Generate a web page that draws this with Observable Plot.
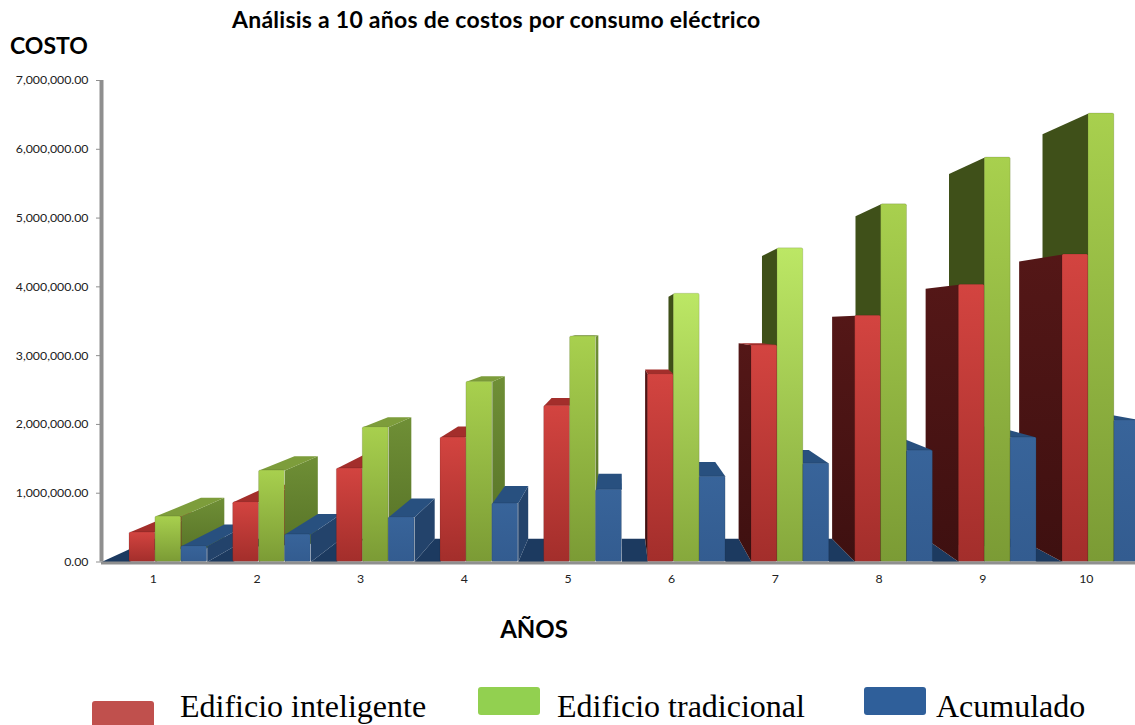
<!DOCTYPE html>
<html lang="es">
<head>
<meta charset="utf-8">
<title>Análisis a 10 años de costos por consumo eléctrico</title>
<script src="https://cdn.jsdelivr.net/npm/d3@7"></script>
<script src="https://cdn.jsdelivr.net/npm/@observablehq/plot@0.6"></script>
<style>
  html, body { margin: 0; padding: 0; background: #fff; overflow: hidden; }
  #page { position: relative; width: 1135px; height: 725px; overflow: hidden; }
  #head { position: relative; height: 62px; font-family: Lato, sans-serif; font-weight: 700; color: #000; }
  #title { position: absolute; left: 232px; top: 5px; font-size: 23px; letter-spacing: 0.25px; white-space: nowrap; }
  #ytitle { position: absolute; left: 10px; top: 31px; font-size: 23px; }
  #foot { position: relative; height: 125px; }
  #xtitle { position: absolute; left: 534px; top: 14px; transform: translateX(-50%); font: 700 24px Lato, sans-serif; color: #000; }
  .swatch { position: absolute; width: 62px; height: 28px; border-radius: 3px; }
  .entry { position: absolute; top: 90px; font: 32px/32px "Liberation Serif", serif; color: #000; white-space: nowrap; }
  svg { display: block; }
</style>
</head>
<body>
<div id="page">
  <div id="head">
    <div id="title">Análisis a 10 años de costos por consumo eléctrico</div>
    <div id="ytitle">COSTO</div>
  </div>
  <div id="chart"></div>
  <div id="foot">
    <div id="xtitle">AÑOS</div>
    <div class="swatch" style="left:92px;top:101px;background:#c0504d"></div>
    <div class="entry" style="left:180px">Edificio inteligente</div>
    <div class="swatch" style="left:478px;top:87px;background:#92d050"></div>
    <div class="entry" style="left:557px">Edificio tradicional</div>
    <div class="swatch" style="left:864px;top:87px;background:#2f5f9a"></div>
    <div class="entry" style="left:936px">Acumulado</div>
  </div>
</div>
<script>
// Yearly cost per building type, in pesos.
const years = [1, 2, 3, 4, 5, 6, 7, 8, 9, 10];
const inteligente = [430000, 870000, 1360000, 1810000, 2270000, 2730000, 3150000, 3580000, 4030000, 4470000];
const tradicional = [660000, 1330000, 1960000, 2620000, 3280000, 3900000, 4560000, 5200000, 5880000, 6520000];
const acumulado = [230000, 400000, 650000, 850000, 1050000, 1240000, 1430000, 1620000, 1810000, 2060000];

// Bar placement inside one year, in year units.
const barWidth = 0.25;
const firstOffset = -0.23;

// Perspective of the extruded bars: everything recedes toward one point.
const vanishX = 5.5;
const vanishV = 3440000;
const depth = 0.098;
const recede = ([x, v]) => [x + depth * (vanishX - x), v + depth * (vanishV - v)];

// Face paints for each series.
const paints = {
  inteligente: {front: "url(#redFront)", top: "#a32e2b", near: "#8d2623", far: "url(#redSide)"},
  tradicional: {front: "url(#greenFront)", top: "#7d9d3b", near: "url(#greenSideNear)", far: "#3f5019"},
  acumulado: {front: "url(#blueFront)", top: "#28507f", near: "#23436b", far: "#1f3d63"}
};
const brightYears = [6, 7];

const series = [["inteligente", inteligente], ["tradicional", tradicional], ["acumulado", acumulado]];
const bars = series.flatMap(([name, values], s) =>
  years.map((year, i) => ({
    name,
    year,
    value: values[i],
    x0: year + firstOffset + s * barWidth,
    x1: year + firstOffset + (s + 1) * barWidth
  }))
);

// Faces further from the vanishing point are painted first so nearer bars cover them.
const order = d3.sort(bars, (d) => -Math.abs((d.x0 + d.x1) / 2 - vanishX));

const quad = (id, fill, corners) => corners.map(([x, y]) => ({id, fill, x, y}));

const faces = order.flatMap((d, n) => {
  const paint = paints[d.name];
  const out = [];
  if (d.x1 < vanishX) {
    const a = [d.x1, 0], b = [d.x1, d.value];
    out.push(...quad(`s${n}`, paint.near, [a, b, recede(b), recede(a)]));
  } else if (d.x0 > vanishX) {
    const a = [d.x0, 0], b = [d.x0, d.value];
    out.push(...quad(`s${n}`, paint.far, [a, b, recede(b), recede(a)]));
  }
  if (d.value < vanishV) {
    const a = [d.x0, d.value], b = [d.x1, d.value];
    out.push(...quad(`t${n}`, paint.top, [a, b, recede(b), recede(a)]));
  }
  return out;
});

// Dark floor strips running back between one year's group and the next.
const floorColor = "#1c3a60";
const gaps = years.map((year) => [
  year === 1 ? 0.5 : year - 1 + firstOffset + 3 * barWidth,
  year + firstOffset
]);
const floor = gaps.flatMap(([a, b], i) =>
  quad(`f${i}`, floorColor, [[a, 0], [b, 0], recede([b, 0]), recede([a, 0])])
);

const frontFill = (d) =>
  d.name === "tradicional" && brightYears.includes(d.year) ? "url(#greenBright)" : paints[d.name].front;

const facePolys = (data) =>
  Plot.line(data, {
    x: "x",
    y: "y",
    z: "id",
    fill: {value: "fill", scale: null},
    stroke: "none",
    curve: "linear"
  });

const chart = Plot.plot({
  width: 1135,
  height: 538,
  marginLeft: 101,
  marginRight: 0,
  marginTop: 18,
  marginBottom: 38.5,
  style: {fontFamily: "Lato, sans-serif", fontSize: "12.3px", color: "#222", background: "#fff"},
  x: {type: "linear", domain: [0.5, 10.474]},
  y: {domain: [0, 7000000]},
  marks: [
    facePolys(floor),
    facePolys(faces),
    Plot.rect(bars, {
      x1: "x0",
      x2: "x1",
      y1: 0,
      y2: "value",
      fill: {value: frontFill, scale: null},
      stroke: "#000",
      strokeOpacity: 0.12,
      strokeWidth: 1,
      rx: 1.5
    }),
    Plot.ruleX([0.5], {stroke: "#8f8f8f", strokeWidth: 4}),
    Plot.ruleY([0], {stroke: "#8f8f8f", strokeWidth: 3, dy: 1}),
    Plot.axisY({
      ticks: d3.range(0, 7000001, 1000000),
      tickFormat: d3.format(",.2f"),
      tickSize: 5,
      tickPadding: 8,
      stroke: "#8f8f8f",
      label: null
    }),
    Plot.axisX({ticks: years, tickFormat: (d) => `${d}`, tickSize: 0, tickPadding: 12, label: null})
  ]
});

// Gradients referenced by the front and side faces.
const defs = d3.select(chart).insert("defs", ":first-child");
const gradient = (id, top, bottom) => {
  const g = defs.append("linearGradient").attr("id", id).attr("x1", 0).attr("y1", 0).attr("x2", 0).attr("y2", 1);
  g.append("stop").attr("offset", 0).attr("stop-color", top);
  g.append("stop").attr("offset", 1).attr("stop-color", bottom);
};
gradient("redFront", "#d34440", "#a32e2b");
gradient("greenFront", "#a8d04e", "#7b9b35");
gradient("greenBright", "#bce765", "#86a83c");
gradient("blueFront", "#38649a", "#335c90");
gradient("redSide", "#541717", "#3e1010");
gradient("greenSideNear", "#6f8f36", "#546f25");

document.getElementById("chart").append(chart);
</script>
</body>
</html>
